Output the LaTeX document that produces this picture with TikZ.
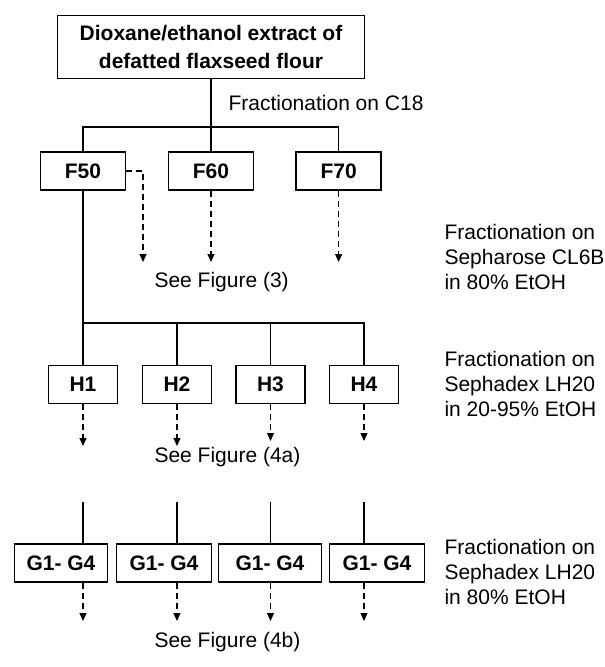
\documentclass[tikz,border=0pt]{standalone}
\usepackage{fontspec}
\setmainfont{Liberation Sans}
\usetikzlibrary{arrows.meta}

\tikzset{
	box/.style={draw, line width=1.3pt, font=\fontsize{21}{25}\selectfont\bfseries,
		minimum height=38pt, inner sep=0pt},
	note/.style={align=left, anchor=west, inner sep=0pt},
	dasharrow/.style={dash pattern=on 6pt off 4pt, -{Triangle[width=7pt,length=8pt]}}
}

\begin{document}
\begin{tikzpicture}[x=1pt, y=-1pt, line width=1.1pt, font=\fontsize{21}{25}\selectfont]
		\useasboundingbox (0,0) rectangle (605,667);

		% extract and the C18 step
		\node[box, minimum width=307pt, minimum height=63pt, align=center,
			font=\fontsize{21}{28}\selectfont\bfseries] (extract) at (211,46.7)
			{Dioxane/ethanol extract of\\defatted flaxseed flour};
		\node[box, minimum width=85pt] (f50) at (83,171) {F50};
		\node[box, minimum width=85pt] (f60) at (211,171) {F60};
		\node[box, minimum width=85pt] (f70) at (338.6,171) {F70};
		\node[note] (c18) at (228,103) {Fractionation on C18};

		\coordinate (split1) at (211,127);
		\draw (extract.south) -- (split1) -- (f60.north);
		\draw (f50.north) |- (split1) -| (f70.north);

		% Sepharose step
		\coordinate (f50end) at (143,262);
		\draw[dasharrow] (f50.east) -| (f50end);
		\draw[dasharrow] (f60.south) -- (f60.south |- f50end);
		\draw[dasharrow] (f70.south) -- (f70.south |- f50end);
		\node[anchor=west, inner sep=0pt] (see3) at (154,282) {See Figure (3)};
		\node[note] (sepharose) at (444,257) {Fractionation on\\Sepharose CL6B\\in 80\% EtOH};

		% Sephadex step, 20-95% EtOH
		\foreach \i/\x in {1/83, 2/177, 3/270.5, 4/364} {
			\node[box, minimum width=69pt] (h\i) at (\x,384.5) {H\i};
		}
		\coordinate (split2) at (83,323);
		\draw (f50.south) -- (split2) -- (h1.north);
		\draw[line width=1.5pt] (split2) -| (h4.north);
		\foreach \i in {2,3} {
			\draw (h\i.north) -- (h\i.north |- split2);
		}
		\foreach \i/\y in {1/446, 2/446, 3/441, 4/441} {
			\draw[dasharrow] (h\i.south) -- (h\i.south |- 0,\y);
		}
		\node[anchor=west, inner sep=0pt] (see4a) at (154,457) {See Figure (4a)};
		\node[note] (lh20a) at (444,384) {Fractionation on\\Sephadex LH20\\in 20-95\% EtOH};

		% Sephadex step, 80% EtOH
		\foreach \i/\x/\w in {1/61/93, 2/164/95, 3/270/103, 4/377/95} {
			\node[box, minimum width=\w pt] (g\i) at (\x,563) {G1- G4};
		}
		\foreach \i in {1,...,4} {
			\coordinate (gin\i) at (h\i.south |- 0,502);
			\draw (gin\i) -- (gin\i |- g\i.north);
			\draw[dasharrow] (gin\i |- g\i.south) -- (gin\i |- 0,621);
		}
		\node[anchor=west, inner sep=0pt] (see4b) at (154,641.7) {See Figure (4b)};
		\node[note] (lh20b) at (444,572) {Fractionation on\\Sephadex LH20\\in 80\% EtOH};
	\end{tikzpicture}
\end{document}
